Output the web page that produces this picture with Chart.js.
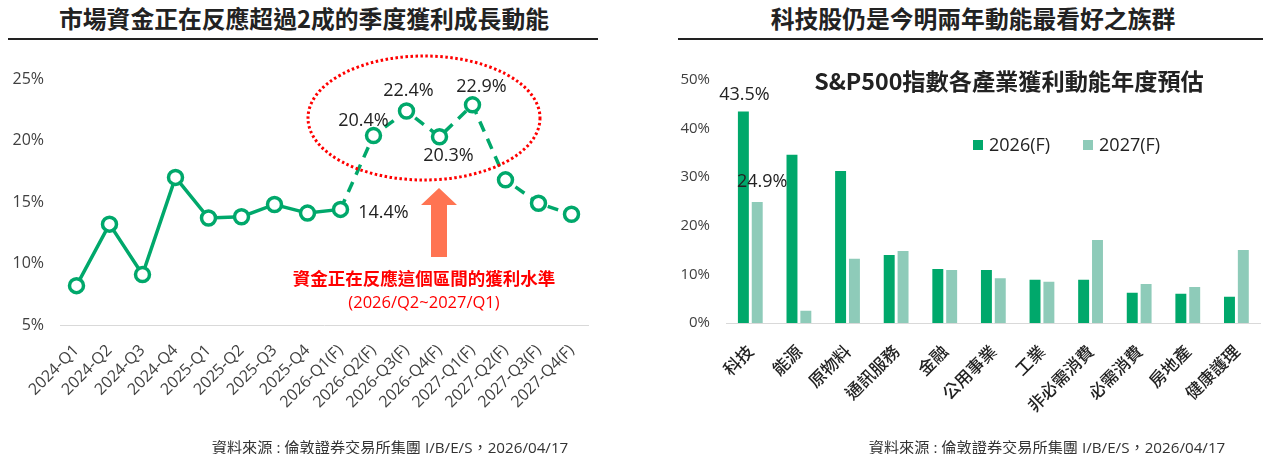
<!DOCTYPE html>
<html lang="zh-Hant">
<head>
<meta charset="utf-8">
<title>季度獲利成長動能</title>
<script src="https://cdn.jsdelivr.net/npm/chart.js@4.4.1/dist/chart.umd.min.js"></script>
<style>
  body { margin: 0; background: #fff; }
  #page { position: relative; width: 1269px; height: 454px; overflow: hidden;
          font-family: "Open Sans", "Noto Sans CJK TC", sans-serif; color: #222; }
  .title { position: absolute; top: 3px; width: 600px; text-align: center; white-space: nowrap;
           font-family: "Noto Sans CJK TC", sans-serif; font-weight: 700; font-size: 23.8px; line-height: 30px; color: #222; }
  .rule { position: absolute; top: 38px; height: 2px; background: #222; }
  .box { position: absolute; top: 0; height: 454px; }
  .source { position: absolute; top: 437px; width: 420px; text-align: center; white-space: nowrap;
            font-size: 15.2px; line-height: 20px; color: #333; }
  .subtitle { position: absolute; top: 65px; left: 759px; width: 500px; text-align: center; white-space: nowrap;
              font-family: "Noto Sans CJK TC", sans-serif; font-weight: 600; font-size: 23.2px; line-height: 30px; color: #222; }
  .legend { position: absolute; top: 132px; left: 973px; font-size: 18px; line-height: 24px; white-space: nowrap; }
  .legend span.sw { display: inline-block; width: 10px; height: 10px; margin-right: 6px; vertical-align: 1px; }
  .legend span.item { margin-right: 33px; }
  .note { position: absolute; left: 224px; width: 400px; text-align: center; color: #ff0000; white-space: nowrap; }
  svg { position: absolute; left: 0; top: 0; pointer-events: none; }
</style>
</head>
<body>
<div id="page">
  <div class="title" style="left:4px">市場資金正在反應超過2成的季度獲利成長動能</div>
  <div class="rule" style="left:8px;width:590px"></div>
  <div class="title" style="left:673px">科技股仍是今明兩年動能最看好之族群</div>
  <div class="rule" style="left:678px;width:585px"></div>

  <div class="box" style="left:0;width:620px"><canvas id="growth"></canvas></div>
  <div class="box" style="left:640px;width:629px"><canvas id="sectors"></canvas></div>

  <svg width="620" height="454">
    <ellipse cx="424" cy="118" rx="116" ry="62" fill="none" stroke="#ff0000" stroke-width="3" stroke-dasharray="2.5 2.5"/>
    <polygon points="439,188 457,205 447,205 447,257 431,257 431,205 421,205" fill="#ff7452"/>
  </svg>
  <div class="note" style="top:267px;font-family:'Noto Sans CJK TC',sans-serif;font-weight:700;font-size:17.5px;line-height:22px">資金正在反應這個區間的獲利水準</div>
  <div class="note" style="top:291px;font-size:16.5px;line-height:22px">(2026/Q2~2027/Q1)</div>

  <div class="subtitle">S&amp;P500指數各產業獲利動能年度預估</div>
  <div class="legend">
    <span class="item"><span class="sw" style="background:#00a86b"></span>2026(F)</span><span><span class="sw" style="background:#8ecbb9"></span>2027(F)</span>
  </div>

  <div class="source" style="left:180px">資料來源 : 倫敦證券交易所集團 I/B/E/S，2026/04/17</div>
  <div class="source" style="left:837px">資料來源 : 倫敦證券交易所集團 I/B/E/S，2026/04/17</div>
</div>

<script>
// left chart: quarterly EPS growth
const quarters = ['2024-Q1', '2024-Q2', '2024-Q3', '2024-Q4', '2025-Q1', '2025-Q2', '2025-Q3', '2025-Q4',
                  '2026-Q1(F)', '2026-Q2(F)', '2026-Q3(F)', '2026-Q4(F)', '2027-Q1(F)', '2027-Q2(F)', '2027-Q3(F)', '2027-Q4(F)'];
const growth = [8.2, 13.2, 9.1, 17.0, 13.7, 13.8, 14.8, 14.1, 14.4, 20.4, 22.4, 20.3, 22.9, 16.8, 14.9, 14.0];
const growthTicks = [5, 10, 15, 20, 25];
const firstForecast = 8; // line is dashed from here on

// right chart: sector earnings growth by year
const sectors = ['科技', '能源', '原物料', '通訊服務', '金融', '公用事業', '工業', '非必需消費', '必需消費', '房地產', '健康護理'];
const eps2026 = [43.5, 34.6, 31.3, 14.0, 11.1, 10.9, 8.9, 8.9, 6.2, 6.0, 5.4];
const eps2027 = [24.9, 2.5, 13.2, 14.8, 10.9, 9.2, 8.5, 17.1, 8.0, 7.4, 15.0];
const sectorTicks = [0, 10, 20, 30, 40, 50];

const GREEN = '#00a86b';
const LIGHT = '#8ecbb9';
const LATIN = '"Open Sans", "Noto Sans CJK TC", sans-serif';

// draws value labels next to chosen points / bars
const valueLabels = {
  id: 'valueLabels',
  afterDatasetsDraw(chart, args, opts) {
    const ctx = chart.ctx;
    ctx.save();
    ctx.font = '18px ' + LATIN;
    ctx.fillStyle = '#222';
    ctx.textAlign = 'center';
    ctx.textBaseline = 'middle';
    (opts.items || []).forEach(it => {
      const el = chart.getDatasetMeta(it.ds).data[it.i];
      const v = chart.data.datasets[it.ds].data[it.i];
      ctx.fillText(v.toFixed(1) + '%', el.x + it.dx, el.y + it.dy);
    });
    ctx.restore();
  }
};

Chart.defaults.font.family = LATIN;
Chart.defaults.color = '#404040';

new Chart(document.getElementById('growth'), {
  type: 'line',
  data: {
    labels: quarters,
    datasets: [{
      data: growth,
      borderColor: GREEN,
      borderWidth: 3.5,
      pointRadius: 7,
      pointHoverRadius: 7,
      pointBorderWidth: 3.5,
      pointBackgroundColor: '#fff',
      pointBorderColor: GREEN,
      tension: 0,
      segment: {
        borderDash: c => c.p0DataIndex >= firstForecast ? [11, 8] : undefined
      }
    }]
  },
  options: {
    responsive: true,
    maintainAspectRatio: false,
    animation: false,
    layout: { padding: { top: 79, right: 32, bottom: 39, left: 0 } },
    plugins: {
      legend: { display: false },
      tooltip: { enabled: false },
      valueLabels: {
        items: [
          { ds: 0, i: 8, dx: 43, dy: 3 },
          { ds: 0, i: 9, dx: -10, dy: -15 },
          { ds: 0, i: 10, dx: 2, dy: -20 },
          { ds: 0, i: 11, dx: 9, dy: 19 },
          { ds: 0, i: 12, dx: 9, dy: -18 }
        ]
      }
    },
    scales: {
      x: {
        offset: true,
        grid: { display: false, drawTicks: false, offset: true },
        border: { display: true, color: '#d9d9d9', width: 1 },
        ticks: { minRotation: 45, maxRotation: 45, autoSkip: false, padding: 16, font: { size: 16 }, color: '#404040' },
        afterFit: s => { s.height = 90; }
      },
      y: {
        min: 5, max: 25,
        grid: { display: false, drawTicks: false },
        border: { display: false },
        afterBuildTicks: s => { s.ticks = growthTicks.map(v => ({ value: v })); },
        ticks: { padding: 16, font: { size: 16 }, color: '#404040', callback: v => v + '%' },
        afterFit: s => { s.width = 60; }
      }
    }
  },
  plugins: [valueLabels]
});

new Chart(document.getElementById('sectors'), {
  type: 'bar',
  data: {
    labels: sectors,
    datasets: [
      { label: '2026(F)', data: eps2026, backgroundColor: GREEN, categoryPercentage: 0.57, barPercentage: 0.79 },
      { label: '2027(F)', data: eps2027, backgroundColor: LIGHT, categoryPercentage: 0.57, barPercentage: 0.79 }
    ]
  },
  options: {
    responsive: true,
    maintainAspectRatio: false,
    animation: false,
    layout: { padding: { top: 80, right: 4, bottom: 41, left: 0 } },
    plugins: {
      legend: { display: false },
      tooltip: { enabled: false },
      valueLabels: {
        items: [
          { ds: 0, i: 0, dx: 1, dy: -17 },
          { ds: 1, i: 0, dx: 5, dy: -20 }
        ]
      }
    },
    scales: {
      x: {
        grid: { display: false, drawTicks: false },
        border: { display: true, color: '#d9d9d9', width: 1 },
        ticks: { minRotation: 45, maxRotation: 45, autoSkip: false, padding: 18,
                 font: { size: 17, weight: '500', family: '"Noto Sans CJK TC", sans-serif' }, color: '#222' },
        afterFit: s => { s.height = 90; }
      },
      y: {
        min: 0, max: 50,
        grid: { display: false, drawTicks: false },
        border: { display: false },
        afterBuildTicks: s => { s.ticks = sectorTicks.map(v => ({ value: v })); },
        ticks: { padding: 16, font: { size: 15 }, color: '#404040', callback: v => v + '%' },
        afterFit: s => { s.width = 86; }
      }
    }
  },
  plugins: [valueLabels]
});
</script>
</body>
</html>
